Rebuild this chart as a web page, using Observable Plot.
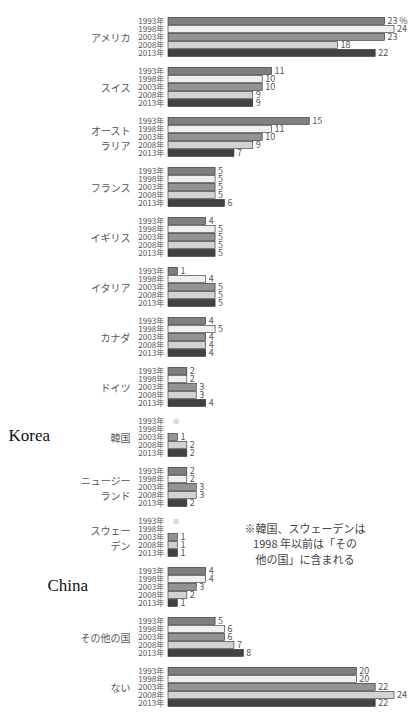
<!DOCTYPE html>
<html><head><meta charset="utf-8">
<script src="https://cdn.jsdelivr.net/npm/d3@7"></script>
<script src="https://cdn.jsdelivr.net/npm/@observablehq/plot@0.6"></script>
<style>
html,body{margin:0;padding:0;background:#fff;}
#chart{position:relative;width:409px;height:713px;overflow:hidden;}
</style>
</head><body>
<div id="chart"></div>
<script>
const countries = ["アメリカ","スイス","オーストラリア","フランス","イギリス","イタリア","カナダ","ドイツ","韓国","ニュージーランド","スウェーデン","中国","その他の国","ない"];
const countryLabels = ["アメリカ","スイス","オースト\nラリア","フランス","イギリス","イタリア","カナダ","ドイツ","韓国","ニュージー\nランド","スウェー\nデン","","その他の国","ない"];
const years = ["1993","1998","2003","2008","2013"];
const v1993 = [23,11,15,5,4,1,4,2,null,2,null,4,5,20];
const v1998 = [24,10,11,5,5,4,5,2,null,2,null,4,6,20];
const v2003 = [23,10,10,5,5,5,4,3,1,3,1,3,6,22];
const v2008 = [18,9,9,5,5,5,4,3,2,3,1,2,7,24];
const v2013 = [22,9,7,6,5,5,4,4,2,2,1,1,8,22];
const yearColors = ["#7f7f7f","#efefef","#939393","#d2d2d2","#424242"];
const koreaNote = [{country:"韓国", text:"Korea"}];
const chinaNote = [{country:"中国", text:"China"}];
const footnote = "※韓国、スウェーデンは\n1998 年以前は「その\n他の国」に含まれる";

const series = [v1993,v1998,v2003,v2008,v2013];
const rows = [];
countries.forEach((c,i)=>years.forEach((y,j)=>rows.push({country:c, year:y, value:series[j][i]})));
const labelRows = countries.map((c,i)=>({country:c, label:countryLabels[i]}));
const markRows = rows.filter(d=>d.value==null && d.year==="1993");

const jp = "'Noto Sans CJK JP','Noto Sans',sans-serif";
const serif = "'Liberation Serif','DejaVu Serif',serif";
const chart = Plot.plot({
  width: 409,
  height: 713,
  marginTop: 12.6,
  marginBottom: 1.4,
  marginLeft: 168,
  marginRight: 15,
  style: {fontFamily: jp, background: "#fff"},
  x: {domain: [0,24], axis: null},
  y: {domain: years, padding: 0.08, axis: null},
  fy: {domain: countries, paddingInner: 0.13, paddingOuter: 0, axis: null},
  color: {domain: years, range: yearColors},
  marks: [
    Plot.barX(rows, {fy:"country", y:"year", x:"value", fill:"year", stroke:"#2a2a2a", strokeWidth:0.6}),
    Plot.text(rows, {fy:"country", y:"year", text:d=>`${d.year}年`, frameAnchor:"left", textAnchor:"end", dx:-4, fontSize:8.2, fill:"#555"}),
    Plot.text(rows.filter(d=>d.value!=null), {fy:"country", y:"year", x:"value",
      text:d=>(d.country==="アメリカ"&&d.year==="1993") ? `${d.value}\u2009%` : `${d.value}`,
      textAnchor:"start", dx:2.5, fontSize:9, fill:"#555"}),
    Plot.text(markRows, {fy:"country", y:"year", text:()=>"※", frameAnchor:"left", textAnchor:"start", dx:4, fontSize:7, fill:"#888"}),
    Plot.text(labelRows, {fy:"country", text:"label", frameAnchor:"left", textAnchor:"end", dx:-38, fontSize:10, lineHeight:1.5, fill:"#555"}),
    Plot.text(koreaNote, {fy:"country", text:"text", frameAnchor:"left", textAnchor:"start", dx:-160, dy:-2, fontSize:17, fill:"#111", fontFamily:serif}),
    Plot.text(chinaNote, {fy:"country", text:"text", frameAnchor:"left", textAnchor:"start", dx:-121, dy:-2, fontSize:17, fill:"#111", fontFamily:serif}),
    Plot.text([{country:"スウェーデン", t:footnote}], {fy:"country", x:()=>14.5, text:"t", fontSize:11, lineHeight:1.4, fill:"#444", dy:6})
  ]
});
document.getElementById("chart").appendChild(chart);
</script>
</body></html>
